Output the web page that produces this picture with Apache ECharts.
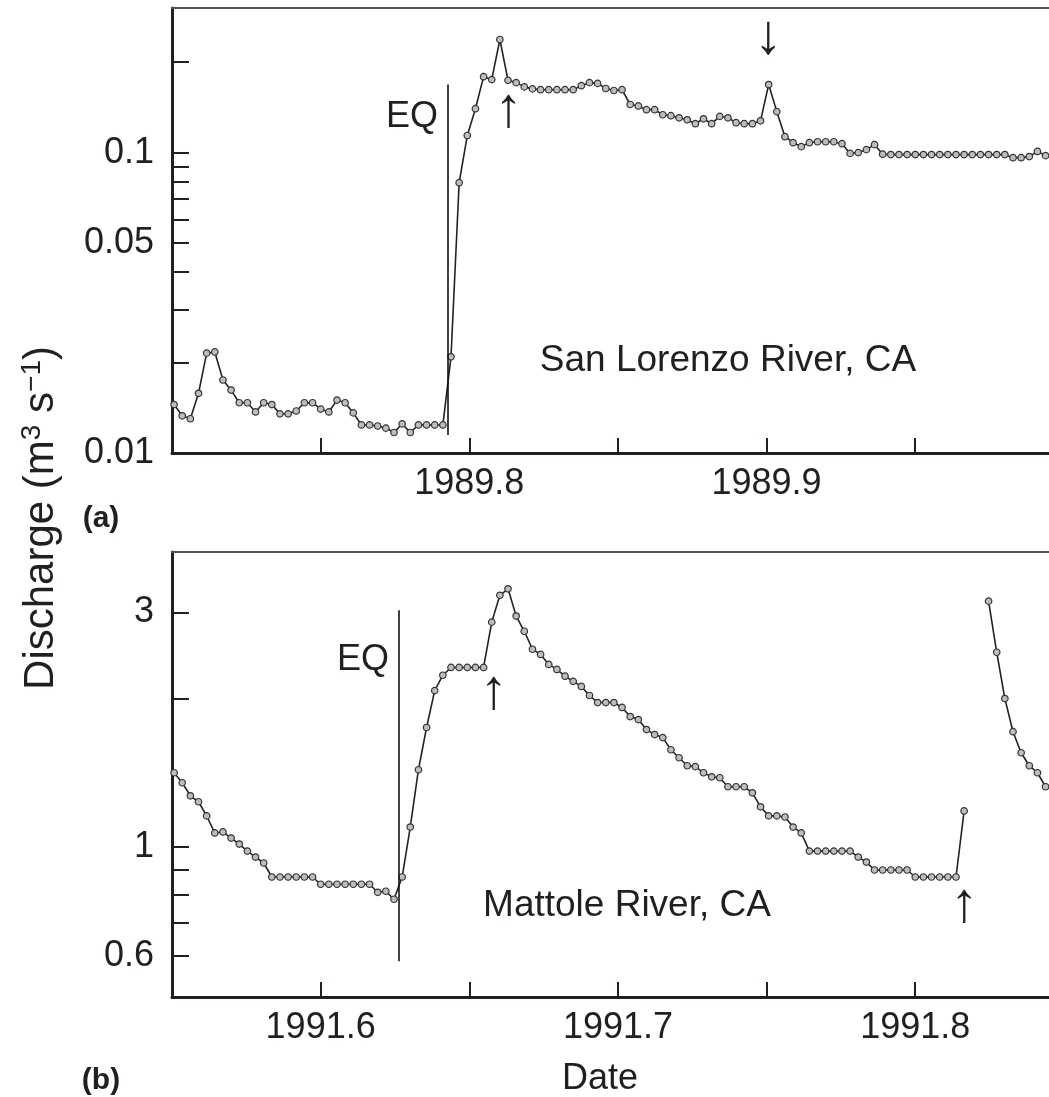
<!DOCTYPE html>
<html><head><meta charset="utf-8">
<script src="https://cdn.jsdelivr.net/npm/echarts@6/dist/echarts.min.js"></script>
<style>html,body{margin:0;padding:0;background:#fff}#chart{width:1049px;height:1097px}</style>
</head><body><div id="chart"></div>
<script>
const FONT = '"Liberation Sans", Arial, Helvetica, sans-serif';
const INK = '#231f20';

// ---- Panel (a): San Lorenzo River, CA (daily discharge, m3/s) ----
const sanLorenzoStart = 1989.7007;   // decimal year of first daily value
const sanLorenzoQ = [
  0.0145, 0.0133, 0.0130, 0.0158, 0.0215, 0.0217, 0.0175, 0.0162, 0.0147, 0.0147,
  0.0137, 0.0147, 0.0145, 0.0135, 0.0135, 0.0138, 0.0147, 0.0147, 0.0140, 0.0137,
  0.0150, 0.0147, 0.0136, 0.0124, 0.0124, 0.0123, 0.0121, 0.0117, 0.0125, 0.0117,
  0.0124, 0.0124, 0.0124, 0.0124, 0.0209, 0.0794, 0.114, 0.140, 0.179, 0.175,
  0.238, 0.174, 0.171, 0.1655, 0.163, 0.162, 0.162, 0.162, 0.162, 0.162,
  0.167, 0.171, 0.170, 0.1635, 0.161, 0.162, 0.1446, 0.143, 0.139, 0.139,
  0.1337, 0.1327, 0.1306, 0.1286, 0.1248, 0.1296, 0.1248, 0.132, 0.1306, 0.1258,
  0.1248, 0.1248, 0.1276, 0.1685, 0.1369, 0.113, 0.1079, 0.1047, 0.1079, 0.1087,
  0.1087, 0.1087, 0.1071, 0.0994, 0.1000, 0.1023, 0.1063, 0.0988, 0.0985, 0.0985,
  0.0985, 0.0985, 0.0985, 0.0985, 0.0985, 0.0985, 0.0985, 0.0985, 0.0985, 0.0985,
  0.0985, 0.0985, 0.0985, 0.0962, 0.0962, 0.0970, 0.1009, 0.0977
];
const eqDateA = 1989.7927;
const eqLineA = [0.01148, 0.1685];
const arrowsA = [
  { name: '↑', coord: [1989.8132, 0.138] },
  { name: '↓', coord: [1989.9006, 0.2418] }
];

// ---- Panel (b): Mattole River, CA ----
const mattoleStart = 1991.5507;
const mattoleQ = [
  1.416, 1.351, 1.271, 1.236, 1.157, 1.068, 1.073, 1.043, 1.014, 0.981,
  0.954, 0.928, 0.869, 0.869, 0.869, 0.869, 0.869, 0.869, 0.840, 0.840,
  0.840, 0.840, 0.840, 0.840, 0.840, 0.809, 0.813, 0.783, 0.869, 1.098,
  1.436, 1.75, 2.08, 2.235, 2.318, 2.318, 2.318, 2.318, 2.318, 2.866,
  3.25, 3.35, 2.949, 2.746, 2.524, 2.464, 2.351, 2.297, 2.225, 2.172,
  2.121, 2.033, 1.967, 1.967, 1.967, 1.922, 1.842, 1.816, 1.733, 1.693,
  1.669, 1.577, 1.519, 1.463, 1.457, 1.416, 1.389, 1.383, 1.326, 1.326,
  1.326, 1.289, 1.207, 1.157, 1.157, 1.151, 1.098, 1.068, 0.981, 0.981,
  0.981, 0.981, 0.981, 0.981, 0.954, 0.932, 0.898, 0.898, 0.898, 0.898,
  0.898, 0.869, 0.869, 0.869, 0.869, 0.869, 0.869, 1.184, null, null,
  3.162, 2.489, 2.004, 1.716, 1.555, 1.463, 1.416, 1.326
];
const eqDateB = 1991.6262;
const eqLineB = [0.5855, 3.031];
const arrowsB = [
  { name: '↑', coord: [1991.6582, 2.0625] },
  { name: '↑', coord: [1991.8165, 0.7614] }
];

const dayInYears = 1 / 365;

// ---- Axes ----
const xRangeA = [1989.70, 1989.995];
const xTicksA = [1989.75, 1989.8, 1989.85, 1989.9, 1989.95];
const xLabelsA = [1989.8, 1989.9];
const yRangeA = [0.01, 0.303];
const yTicksA = [0.02, 0.03, 0.04, 0.05, 0.06, 0.07, 0.08, 0.09, 0.1, 0.2];
const yLabelsA = [0.01, 0.05, 0.1];

const xRangeB = [1991.55, 1991.845];
const xTicksB = [1991.6, 1991.65, 1991.7, 1991.75, 1991.8];
const xLabelsB = [1991.6, 1991.7, 1991.8];
const yRangeB = [0.4955, 3.98];
const yTicksB = [0.6, 0.7, 0.8, 0.9, 1, 2, 3];
const yLabelsB = [0.6, 1, 3];

function toSeries(start, vals) {
  return vals.map((v, i) => [start + i * dayInYears, v]);
}
const fmtNum = v => String(+(+v).toPrecision(6));

function xAxisBottom(grid, range, ticks, labels) {
  return {
    type: 'value', gridIndex: grid, min: range[0], max: range[1], position: 'bottom',
    axisLine: { show: true, onZero: false, lineStyle: { color: INK, width: 3 } },
    axisTick: { show: true, inside: true, length: 15, customValues: ticks, lineStyle: { color: INK, width: 2 } },
    axisLabel: { show: true, customValues: labels, formatter: fmtNum, fontSize: 36, color: INK, fontFamily: FONT, margin: 13 },
    splitLine: { show: false }
  };
}
function xAxisTop(grid, range) {
  return {
    type: 'value', gridIndex: grid, min: range[0], max: range[1], position: 'top',
    axisLine: { show: true, onZero: false, lineStyle: { color: '#555', width: 2 } },
    axisTick: { show: false }, axisLabel: { show: false }, splitLine: { show: false }
  };
}
function yAxisLog(grid, range, ticks, labels) {
  return {
    type: 'log', logBase: 10, gridIndex: grid, min: range[0], max: range[1],
    axisLine: { show: true, lineStyle: { color: INK, width: 3 } },
    axisTick: { show: true, inside: true, length: 17, customValues: ticks, lineStyle: { color: INK, width: 2 } },
    axisLabel: { show: true, customValues: labels, formatter: fmtNum, fontSize: 36, color: INK, fontFamily: FONT, margin: 18 },
    splitLine: { show: false }, minorTick: { show: false }
  };
}

function lineSeries(xi, yi, data, eqDate, eqLine, arrows) {
  return {
    type: 'line', xAxisIndex: xi, yAxisIndex: yi, data: data,
    symbol: 'circle', symbolSize: 6.5, showSymbol: true, showAllSymbol: true,
    connectNulls: false, clip: true, animation: false,
    lineStyle: { color: '#222', width: 1.6 },
    itemStyle: { color: '#bdbdbd', borderColor: '#333', borderWidth: 1.2 },
    emphasis: { disabled: true },
    markLine: {
      silent: true, animation: false, symbol: ['none', 'none'], label: { show: false },
      lineStyle: { color: '#111', width: 1.6, type: 'solid' },
      data: [[{ coord: [eqDate, eqLine[0]] }, { coord: [eqDate, eqLine[1]] }]]
    },
    markPoint: {
      silent: true, animation: false, symbol: 'circle', symbolSize: 1,
      itemStyle: { color: 'rgba(0,0,0,0)' },
      label: { show: true, position: 'inside', formatter: '{b}', fontSize: 56, color: INK, fontFamily: FONT },
      data: arrows
    }
  };
}

const chart = echarts.init(document.getElementById('chart'), null, { renderer: 'canvas' });

const textStyle = (t, x, y, extra) => ({
  type: 'text', x: x, y: y, silent: true,
  style: Object.assign({ text: t, fontSize: 36, fontFamily: FONT, fill: INK, align: 'center', verticalAlign: 'middle' }, extra || {})
});

chart.setOption({
  animation: false,
  backgroundColor: '#fff',
  grid: [
    { left: 172, top: 8, width: 877, height: 445, containLabel: false },
    { left: 172, top: 552, width: 877, height: 445, containLabel: false }
  ],
  xAxis: [
    xAxisBottom(0, xRangeA, xTicksA, xLabelsA),
    xAxisBottom(1, xRangeB, xTicksB, xLabelsB),
    xAxisTop(0, xRangeA),
    xAxisTop(1, xRangeB)
  ],
  yAxis: [
    yAxisLog(0, yRangeA, yTicksA, yLabelsA),
    yAxisLog(1, yRangeB, yTicksB, yLabelsB)
  ],
  series: [
    lineSeries(0, 0, toSeries(sanLorenzoStart, sanLorenzoQ), eqDateA, eqLineA, arrowsA),
    lineSeries(1, 1, toSeries(mattoleStart, mattoleQ), eqDateB, eqLineB, arrowsB)
  ],
  graphic: [
    textStyle('EQ', 412, 117),
    textStyle('EQ', 363, 660),
    textStyle('San Lorenzo River, CA', 728, 361, { fontSize: 37 }),
    textStyle('Mattole River, CA', 627, 906, { fontSize: 37 }),
    textStyle('(a)', 101, 519, { fontSize: 30, fontWeight: 'bold' }),
    textStyle('(b)', 101, 1081, { fontSize: 30, fontWeight: 'bold' }),
    textStyle('Date', 600, 1079),
    {
      type: 'text', x: 41, y: 518, rotation: Math.PI / 2, silent: true,
      style: {
        text: '{n|Discharge (m}{s|3}{n| s}{s|−1}{n|)}',
        fontFamily: FONT, fill: INK, align: 'center', verticalAlign: 'middle',
        rich: {
          n: { fontSize: 42, fontFamily: FONT, color: INK, lineHeight: 46 },
          s: { fontSize: 28, fontFamily: FONT, color: INK, lineHeight: 28, verticalAlign: 'top' }
        }
      }
    }
  ]
});
</script>
</body></html>
